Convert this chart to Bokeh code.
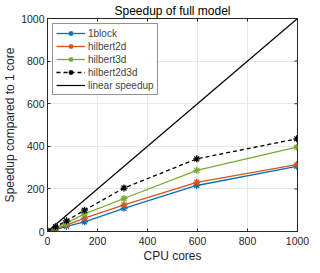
import math
from bokeh.plotting import figure
from bokeh.models import Range1d, Legend, LegendItem, FixedTicker
from bokeh.embed import file_html
from bokeh.resources import INLINE

cores = [1, 32, 76, 148, 306, 597, 997]
s_1block = [1, 8, 24, 45, 109, 216, 306]
s_hilbert2d = [1, 15, 30, 63, 125, 231, 314]
s_hilbert3d = [1, 20, 39, 83, 155, 287, 396]
s_hilbert2d3d = [1, 22, 50, 100, 204, 341, 435]
linear_x = [0, 1000]
linear_y = [0, 1000]
ticks = [0, 200, 400, 600, 800, 1000]
x_lim = [0, 1000]
y_lim = [0, 1000]

FONT = "Liberation Sans"
p = figure(width=312, height=265, output_backend="svg", toolbar_location=None,
           x_range=Range1d(*x_lim), y_range=Range1d(*y_lim),
           min_border_left=0, min_border_right=15, min_border_bottom=0, min_border_top=2)
p.title.text = "Speedup of full model"
p.title.align = "center"
p.title.text_font = FONT
p.title.text_font_size = "12px"
p.title.text_font_style = "normal"
p.title.text_color = "#000000"
p.title.standoff = 2

for ax in (p.xaxis[0], p.yaxis[0]):
    ax.ticker = FixedTicker(ticks=ticks)
    ax.major_tick_in = 3
    ax.major_tick_out = 0
    ax.minor_tick_line_color = None
    ax.major_label_text_font = FONT
    ax.major_label_text_font_size = "10.5px"
    ax.major_label_text_color = "#262626"
    ax.major_label_text_line_height = 1.0
    ax.axis_line_color = "#262626"
    ax.major_tick_line_color = "#262626"
    ax.axis_label_text_font = FONT
    ax.axis_label_text_font_size = "12px"
    ax.axis_label_text_font_style = "normal"
    ax.axis_label_text_color = "#262626"
    ax.axis_label_text_line_height = 1.0
p.xaxis.axis_label = "CPU cores"
p.yaxis.axis_label = "Speedup compared to 1 core"
p.xaxis.major_label_standoff = 5
p.yaxis.major_label_standoff = 3
p.xaxis.axis_label_standoff = 1
p.yaxis.axis_label_standoff = 1

p.grid.grid_line_color = "#e6e6e6"
p.outline_line_color = "#262626"

# mirrored inward ticks on top and right edges (clipped to the frame)
p.scatter(ticks, [y_lim[1]] * len(ticks), marker="dash", angle=math.pi / 2, size=6,
          line_color="#262626", line_width=1)
p.scatter([x_lim[1]] * len(ticks), ticks, marker="dash", size=6,
          line_color="#262626", line_width=1)

C1, C2, C3 = "#0072BD", "#D95319", "#77AC30"
items = []
for ys, col, name, dash in [(s_1block, C1, "1block", "solid"),
                            (s_hilbert2d, C2, "hilbert2d", "solid"),
                            (s_hilbert3d, C3, "hilbert3d", "solid"),
                            (s_hilbert2d3d, "#000000", "hilbert2d3d", "4 3")]:
    l = p.line(cores, ys, line_color=col, line_width=1.3, line_dash=dash)
    m = p.scatter(cores, ys, marker="asterisk", size=7, line_color=col, line_width=1.3)
    items.append(LegendItem(label=name, renderers=[l, m]))
ll = p.line(linear_x, linear_y, line_color="#000000", line_width=1.2)
items.append(LegendItem(label="linear speedup", renderers=[ll]))

leg = Legend(items=items, location="top_left")
leg.label_text_font = FONT
leg.label_text_font_size = "10px"
leg.label_height = 12
leg.glyph_height = 12
leg.glyph_width = 29
leg.spacing = 1
leg.padding = 3
leg.margin = 5
leg.border_line_color = "#262626"
leg.label_standoff = 3
p.add_layout(leg)

open("out.html", "w").write(file_html(p, INLINE))
